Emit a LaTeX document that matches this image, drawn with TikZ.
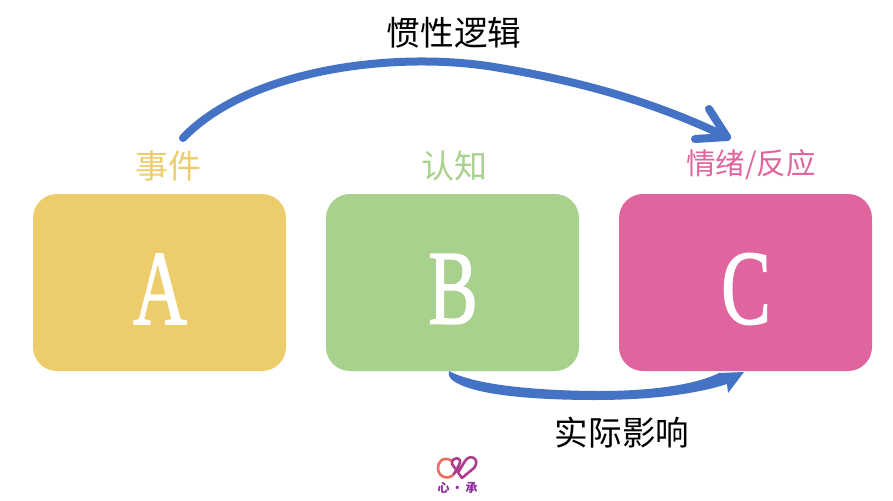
\documentclass[tikz,border=0pt]{standalone}
\usepackage{fontspec}
\newfontfamily\cjk{Noto Sans CJK SC}
\newfontfamily\cjkl{Noto Sans CJK SC}
\newfontfamily\letterfont[FakeBold=1.6]{Liberation Serif}
\definecolor{yel}{HTML}{EDCD6B}
\definecolor{grn}{HTML}{A9D18E}
\definecolor{pnk}{HTML}{E0659F}
\definecolor{arr}{HTML}{4472C4}
\definecolor{logop}{HTML}{8E2A9E}
\definecolor{logor}{HTML}{EE6A62}
\tikzset{
  x=1pt,y=-1pt,
  card/.style={rounded corners=24pt,minimum width=253pt,minimum height=177pt,inner sep=0pt,outer sep=0pt,text=white},
  letter/.style={font=\letterfont\fontsize{106}{106}\selectfont,xscale=.7},
  caption/.style={font=\cjkl\fontsize{33}{33}\selectfont,inner sep=0pt},
  wcaption/.style={font=\cjkl\fontsize{29.5}{30}\selectfont,inner sep=0pt},
  blackcaption/.style={font=\cjkl\fontsize{33.6}{34}\selectfont,inner sep=0pt,text=black},
  flow/.style={draw=arr,line width=8pt,line cap=round,line join=round}
}
\begin{document}
\begin{tikzpicture}
\useasboundingbox (0,0) rectangle (893,500);
\fill[white] (0,0) rectangle (893,500);
\node[card,fill=yel] (A) at (159.5,282.5) {};
\node[card,fill=grn] (B) at (452.5,282.5) {};
\node[card,fill=pnk] (C) at (745.5,282.5) {};
\node[letter,text=white] (la) at (160,289) {A};
\node[letter,text=white] (lb) at (453,289) {B};
\node[letter,text=white] (lc) at (746,289) {C};
\node[caption,text=yel] (ta) at (168,166) {事件};
\node[caption,text=grn] (tb) at (454,166) {认知};
\node[wcaption,text=pnk] (tc) at (751,165) {情绪/反应};
\node[blackcaption] (top) at (454,33) {惯性逻辑};
\node[blackcaption] (bot) at (622,433) {实际影响};
% top curved arrow
\coordinate (a0) at (183,138);
\coordinate (a1) at (727,137);
\draw[flow] (a0) .. controls (250,68) and (400,50) .. (500,68) .. controls (590,83) and (660,105) .. (a1);
\draw[flow] (709,109) -- (a1) -- (695,139);
% bottom curved arrow (tapered)
\coordinate (b0) at (449,371);
\coordinate (b1) at (744,372);
\fill[arr] (b0) .. controls (480,388) and (560,391) .. (600,391)
  .. controls (650,391) and (695,385) .. (719,373) -- (b1) -- (728,393)
  -- (727,384) .. controls (690,396) and (640,400) .. (595,400)
  .. controls (540,400) and (470,396) .. (451,379) .. controls (449,377) and (448,374) .. (b0);
% logo
\draw[logor,line width=2.6pt,line cap=round] (452,461) .. controls (443,455) and (437,463) .. (438,469) .. controls (439,478) and (449,480) .. (454,474);
\draw[logop!70!logor,line width=2.6pt,line cap=round,line join=round]
  (454,474) -- (459,465) .. controls (464,456) and (451,456) .. (452,464) -- (462,478) -- (474,468) .. controls (481,459) and (470,453) .. (465,461) -- (459,471);
\node[inner sep=0pt,text=logop] (logo) at (457.5,487.5) {\cjk\bfseries\fontsize{12}{12}\selectfont 心\,·\,承};
\end{tikzpicture}
\end{document}
